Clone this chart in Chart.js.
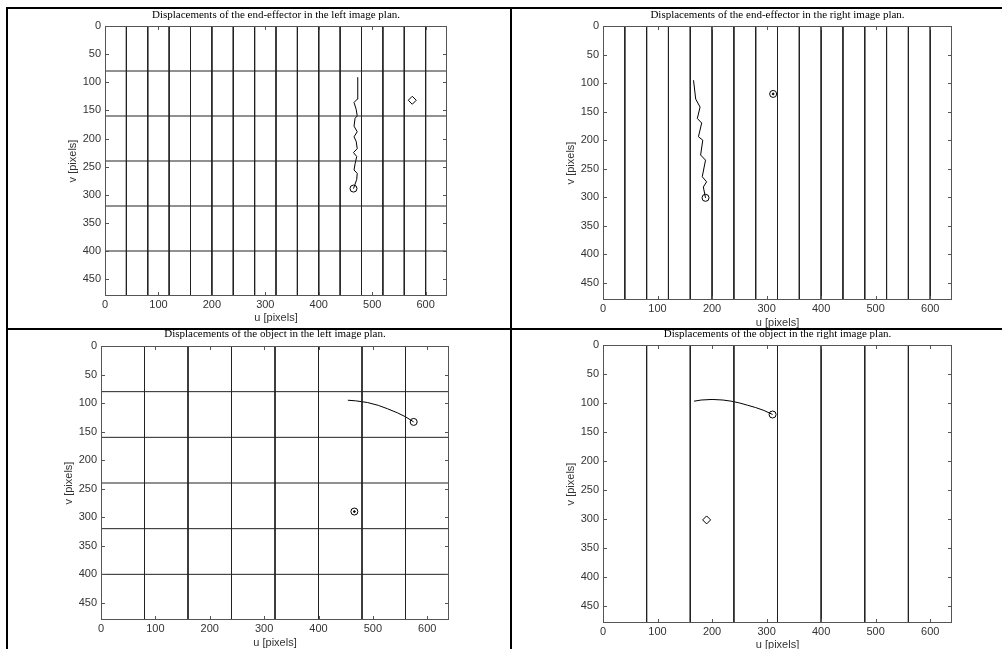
<!DOCTYPE html>
<html>
<head>
<meta charset="utf-8">
<script src="https://cdn.jsdelivr.net/npm/chart.js@4.4.0/dist/chart.umd.min.js"></script>
<style>
  html, body { margin: 0; padding: 0; width: 1002px; height: 649px; overflow: hidden; background: #fff; }
  canvas { position: absolute; }
  .rule { position: absolute; background: #000; z-index: 5; }
</style>
</head>
<body>
<canvas id="c1" width="511" height="328" style="left:0;top:0"></canvas>
<canvas id="c2" width="491" height="334" style="left:511px;top:0"></canvas>
<canvas id="c3" width="511" height="335" style="left:0;top:320px"></canvas>
<canvas id="c4" width="491" height="335" style="left:511px;top:320px"></canvas>

<div class="rule" style="left:6px;top:7px;width:996px;height:2px"></div>
<div class="rule" style="left:6px;top:7px;width:2px;height:642px"></div>
<div class="rule" style="left:510px;top:7px;width:2px;height:642px"></div>
<div class="rule" style="left:6px;top:328px;width:996px;height:2px"></div>

<script>
// tick labels (image plane is 640 x 480, v grows downward)
var xTickValues = [0, 100, 200, 300, 400, 500, 600];
var yTickValues = [0, 50, 100, 150, 200, 250, 300, 350, 400, 450];

// reference grid lines drawn in the image planes
var gridU40 = [40, 80, 120, 160, 200, 240, 280, 320, 360, 400, 440, 480, 520, 560, 600];
var gridU80 = [80, 160, 240, 320, 400, 480, 560];
var gridV80 = [80, 160, 240, 320, 400];

var titles = [
  "Displacements of the end-effector in the left image plan.",
  "Displacements of the end-effector in the right image plan.",
  "Displacements of the object in the left image plan.",
  "Displacements of the object in the right image plan."
];

// end-effector, left image
var effLeftU = [465, 471, 472, 466, 468, 471, 465, 472, 470, 466, 472, 466, 468, 472, 470, 466, 472, 473];
var effLeftV = [289, 273, 262, 256, 245, 232, 225, 218, 205, 197, 188, 178, 164, 160, 148, 136, 130, 91];
var effLeftStart = [465, 289];
var effLeftTarget = [575, 132];

// end-effector, right image
var effRightU = [188, 184, 190, 182, 188, 179, 183, 175, 181, 173, 178, 170, 166];
var effRightV = [301, 282, 273, 264, 235, 226, 200, 194, 170, 162, 142, 128, 95];
var effRightStart = [188, 301];
var effRightTarget = [312, 119];

// object, left image
var objLeftU = [454, 468, 490, 510, 527, 545, 560, 575];
var objLeftV = [95, 96, 99, 104, 110, 117, 124, 133];
var objLeftEnd = [575, 133];
var objLeftMark = [466, 290];

// object, right image
var objRightU = [167, 180, 200, 220, 235, 250, 265, 280, 295, 311];
var objRightV = [97, 95, 94, 95, 97, 100, 104, 108, 113, 120];
var objRightEnd = [311, 120];
var objRightMark = [190, 302];

Chart.defaults.font.family = "'Liberation Sans', Arial, sans-serif";
Chart.defaults.font.size = 11;
Chart.defaults.color = "#222";

function pts(us, vs) {
  return us.map(function (u, i) { return { x: u, y: vs[i] }; });
}
function verticals(list) {
  var out = [];
  list.forEach(function (u) { out.push({ x: u, y: 0 }, { x: u, y: 480 }, { x: u, y: null }); });
  return out;
}
function horizontals(list) {
  var out = [];
  list.forEach(function (v) { out.push({ x: 0, y: v }, { x: 640, y: v }, { x: null, y: null }); });
  return out;
}
function lineSet(data, color) {
  return { data: data, showLine: true, spanGaps: false, borderColor: color, borderWidth: 1, pointRadius: 0, fill: false };
}
function marker(at, kind) {
  var ds = { data: [{ x: at[0], y: at[1] }], showLine: false, pointBorderColor: "#000", pointBorderWidth: 1,
             pointBackgroundColor: "rgba(0,0,0,0)", pointRadius: 3.5, pointStyle: "circle" };
  if (kind === "diamond") { ds.pointStyle = "rectRot"; ds.pointRadius = 4; }
  if (kind === "dot") { ds.pointRadius = 0.9; ds.pointBackgroundColor = "#000"; }
  return ds;
}

// matlab style frame with inward ticks on all sides
var frameTicks = {
  id: "frameTicks",
  afterDatasetsDraw: function (chart) {
    var ctx = chart.ctx, a = chart.chartArea, x = chart.scales.x, y = chart.scales.y;
    ctx.save();
    ctx.strokeStyle = "#555";
    ctx.lineWidth = 1;
    ctx.beginPath();
    x.ticks.forEach(function (t) {
      var px = Math.round(x.getPixelForValue(t.value)) + 0.5;
      ctx.moveTo(px, a.bottom); ctx.lineTo(px, a.bottom - 4);
      ctx.moveTo(px, a.top); ctx.lineTo(px, a.top + 4);
    });
    y.ticks.forEach(function (t) {
      var py = Math.round(y.getPixelForValue(t.value)) + 0.5;
      ctx.moveTo(a.left, py); ctx.lineTo(a.left + 4, py);
      ctx.moveTo(a.right, py); ctx.lineTo(a.right - 4, py);
    });
    ctx.stroke();
    ctx.strokeRect(a.left + 0.5, a.top + 0.5, a.width - 1, a.height - 1);
    ctx.restore();
  }
};

var panels = [
  { id: "c1", yW: 105, xH: 32, padR: 64, tTop: 8.4, tBot: 4.4, yPad: 66, xPad: 3.4, title: titles[0],
    sets: [lineSet(verticals(gridU40), "#222"), lineSet(horizontals(gridV80), "#222"),
           lineSet(pts(effLeftU, effLeftV), "#000"), marker(effLeftStart, "circle"), marker(effLeftTarget, "diamond")] },
  { id: "c2", yW: 92, xH: 34, padR: 50, tTop: 8.4, tBot: 4.4, yPad: 53, xPad: 4.4, title: titles[1],
    sets: [lineSet(verticals(gridU40), "#222"),
           lineSet(pts(effRightU, effRightV), "#000"), marker(effRightStart, "circle"),
           marker(effRightTarget, "circle"), marker(effRightTarget, "dot")] },
  { id: "c3", yW: 101, xH: 35, padR: 62, tTop: 7.4, tBot: 5.4, yPad: 62.4, xPad: 5.7, title: titles[2],
    sets: [lineSet(verticals(gridU80), "#222"), lineSet(horizontals(gridV80), "#222"),
           lineSet(pts(objLeftU, objLeftV), "#000"), marker(objLeftEnd, "circle"),
           marker(objLeftMark, "circle"), marker(objLeftMark, "dot")] },
  { id: "c4", yW: 92, xH: 32, padR: 50, tTop: 7.4, tBot: 4.4, yPad: 53, xPad: 3.4, title: titles[3],
    sets: [lineSet(verticals(gridU80), "#222"),
           lineSet(pts(objRightU, objRightV), "#000"), marker(objRightEnd, "circle"), marker(objRightMark, "diamond")] }
];

panels.forEach(function (p) {
  new Chart(document.getElementById(p.id), {
    type: "scatter",
    data: { datasets: p.sets },
    plugins: [frameTicks],
    options: {
      responsive: false,
      animation: false,
      layout: { padding: { left: 0, top: 0, right: p.padR, bottom: 0 } },
      plugins: {
        legend: { display: false },
        tooltip: { enabled: false },
        title: {
          display: true, text: p.title, fullSize: false, color: "#000",
          font: { family: "'Liberation Serif', 'Times New Roman', serif", size: 11, weight: "normal" },
          padding: { top: p.tTop, bottom: p.tBot }
        }
      },
      scales: {
        x: {
          type: "linear", min: 0, max: 640,
          grid: { display: false, drawTicks: false }, border: { display: false },
          afterBuildTicks: function (s) { s.ticks = xTickValues.map(function (v) { return { value: v }; }); },
          afterFit: function (s) { s.height = p.xH; },
          ticks: { padding: 2, maxRotation: 0, autoSkip: false, color: "#333" },
          title: { display: true, text: "u [pixels]", color: "#333", padding: { top: 0, bottom: p.xPad } }
        },
        y: {
          type: "linear", min: 0, max: 480, reverse: true,
          grid: { display: false, drawTicks: false }, border: { display: false },
          afterBuildTicks: function (s) { s.ticks = yTickValues.map(function (v) { return { value: v }; }); },
          afterFit: function (s) { s.width = p.yW; },
          ticks: { padding: 4, autoSkip: false, color: "#333" },
          title: { display: true, text: "v [pixels]", color: "#333", padding: { top: p.yPad, bottom: 0 } }
        }
      }
    }
  });
});
</script>
</body>
</html>
